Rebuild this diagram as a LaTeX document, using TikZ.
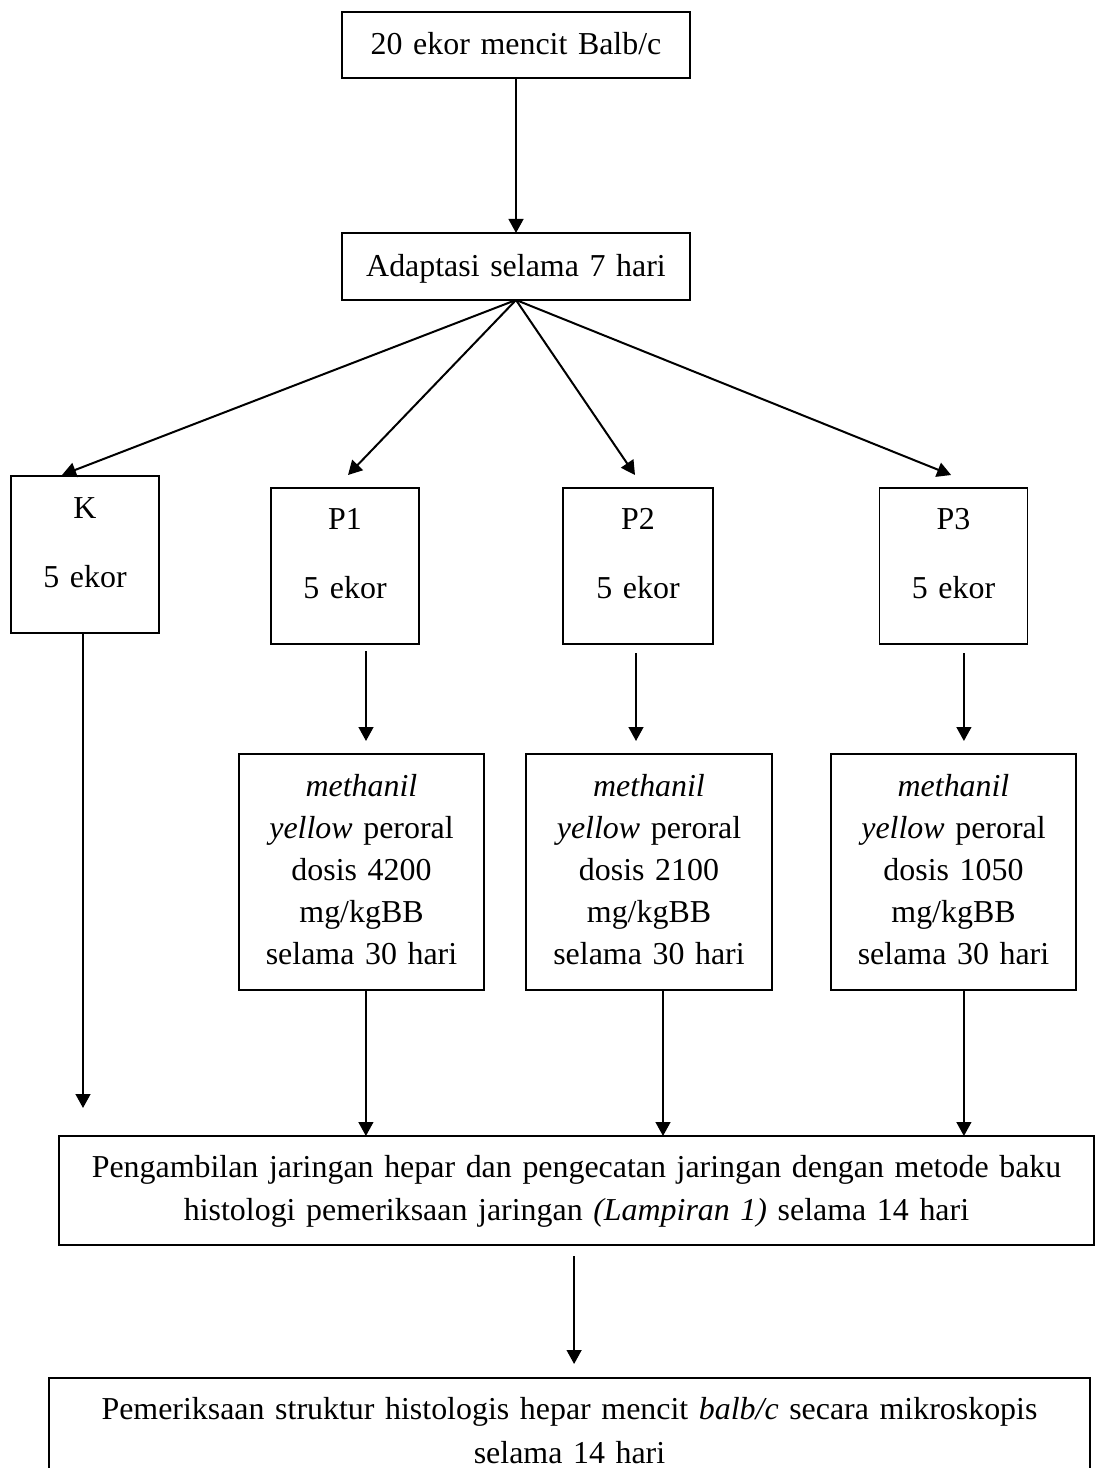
\documentclass[tikz,border=0pt]{standalone}
\usepackage{fontspec}
\setmainfont{Liberation Serif}
\usetikzlibrary{arrows.meta}

\begin{document}
\begin{tikzpicture}[x=0.25mm,y=-0.25mm,
  font=\fontsize{22.7}{29.9}\selectfont,
  kotak/.style={draw,line width=0.45mm,inner sep=0pt,outer sep=0pt,anchor=north,align=center},
  grup/.style={kotak,text width=37mm,text height=10.25mm,text depth=28.75mm},
  dosis/.style={kotak,text width=61.25mm,text height=10.5mm,text depth=48.5mm},
  panah/.style={-{Triangle[length=3.5mm,width=3.7mm]},line width=0.5mm}]
\path[use as bounding box,clip] (0,0) rectangle (1096,1468);

\node[kotak,text width=87mm,text height=10.75mm,text depth=5.75mm] (mencit) at (516,12) {20 ekor mencit Balb/c};
\node[kotak,text width=87mm,text height=10.75mm,text depth=6mm] (adapt) at (516,233) {Adaptasi selama 7 hari};

\node[grup,text height=10.5mm] (K) at (85,476) {K\\[6.75mm]5 ekor};
\node[grup] (P1) at (345,488) {P1\\[6.75mm]5 ekor};
\node[grup,text width=37.5mm] (P2) at (638,488) {P2\\[6.75mm]5 ekor};
\node[grup] (P3) at (953.5,488) {P3\\[6.75mm]5 ekor};

\node[dosis] (M1) at (361.5,754) {\textit{methanil}\\\textit{yellow} peroral\\dosis 4200\\mg/kgBB\\selama 30 hari};
\node[dosis,text width=61.5mm] (M2) at (649,754) {\textit{methanil}\\\textit{yellow} peroral\\dosis 2100\\mg/kgBB\\selama 30 hari};
\node[dosis] (M3) at (953.5,754) {\textit{methanil}\\\textit{yellow} peroral\\dosis 1050\\mg/kgBB\\selama 30 hari};

\node[kotak,text width=258.75mm,text height=10.25mm,text depth=17mm] (hepar) at (576.5,1136) {Pengambilan jaringan hepar dan pengecatan jaringan dengan metode baku\\[0.25mm]histologi pemeriksaan jaringan \textit{(Lampiran 1)} selama 14 hari};
\node[kotak,text width=260.25mm,text height=10.25mm,text depth=25mm] (akhir) at (569.5,1378) {Pemeriksaan struktur histologis hepar mencit \textit{balb/c} secara mikroskopis\\[0.5mm]selama 14 hari};

% alur
\draw[panah] (mencit) -- (adapt);
\draw[panah] (adapt.south) -- ([xshift=-5.75mm,yshift=0.25mm]K.north);
\draw[panah] (adapt.south) -- ([xshift=0.75mm,yshift=3.25mm]P1.north);
\draw[panah] (adapt.south) -- ([xshift=-0.75mm,yshift=3.25mm]P2.north);
\draw[panah] (adapt.south) -- ([xshift=-0.6mm,yshift=3.25mm]P3.north);

\draw[panah,shorten <=1.75mm,shorten >=3.25mm] ([xshift=5.25mm]P1.south) -- ([xshift=5.25mm]P1.south |- M1.north);
\draw[panah,shorten <=2.25mm,shorten >=3.25mm] ([xshift=-0.5mm]P2.south) -- ([xshift=-0.5mm]P2.south |- M2.north);
\draw[panah,shorten <=2.25mm,shorten >=3.25mm] ([xshift=2.6mm]P3.south) -- ([xshift=2.6mm]P3.south |- M3.north);

\draw[panah,shorten >=7mm] ([xshift=-0.5mm]K.south) -- ([xshift=-0.5mm]K.south |- hepar.north);
\draw[panah] ([xshift=1.1mm]M1.south) -- ([xshift=1.1mm]M1.south |- hepar.north);
\draw[panah] ([xshift=3.5mm]M2.south) -- ([xshift=3.5mm]M2.south |- hepar.north);
\draw[panah] ([xshift=2.6mm]M3.south) -- ([xshift=2.6mm]M3.south |- hepar.north);

\draw[panah,shorten <=2.75mm,shorten >=3.5mm] ([xshift=-0.6mm]hepar.south) -- ([xshift=-0.6mm]hepar.south |- akhir.north);
\end{tikzpicture}
\end{document}
